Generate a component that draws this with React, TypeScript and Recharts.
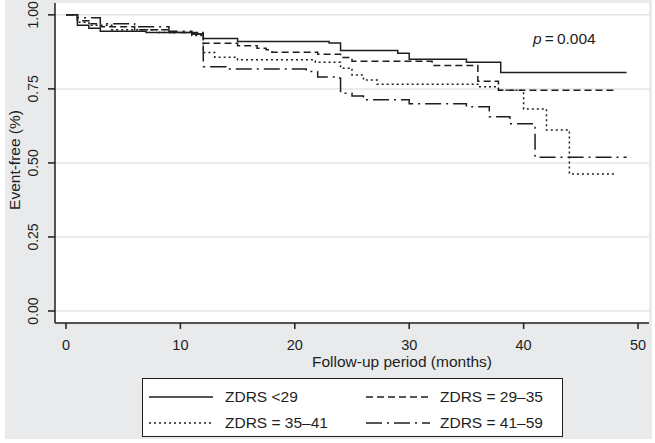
import React from "react";
import { LineChart, Line, XAxis, YAxis, CartesianGrid } from "recharts";

// Kaplan-Meier style step curves, months vs. proportion event-free
const lowMonths = [0, 1, 2, 3, 7, 11, 12, 15, 23, 24, 29, 30, 35, 38, 49];
const lowSurv = [1, 0.965, 0.955, 0.945, 0.94, 0.935, 0.92, 0.91, 0.905, 0.88, 0.87, 0.85, 0.84, 0.805, 0.805];

const midMonths = [0, 1, 2, 3, 6, 9, 12, 15, 16.7, 17.5, 18, 22, 24, 25, 32, 36, 37.8, 48];
const midSurv = [1, 0.98, 0.97, 0.96, 0.95, 0.94, 0.904, 0.896, 0.887, 0.882, 0.874, 0.867, 0.856, 0.843, 0.829, 0.776, 0.745, 0.745];

const highMonths = [0, 1, 2, 4, 8, 11, 12, 13, 15, 21.8, 24, 25, 26, 27.2, 36, 37.8, 40, 42, 44, 48];
const highSurv = [1, 0.975, 0.965, 0.95, 0.94, 0.93, 0.873, 0.857, 0.848, 0.84, 0.82, 0.797, 0.78, 0.766, 0.757, 0.745, 0.682, 0.611, 0.463, 0.463];

const topMonths = [0, 1, 3, 6, 9, 11, 12, 14, 21, 22, 23.5, 24, 25, 26, 30, 35, 37, 38.8, 41, 49];
const topSurv = [1, 0.99, 0.97, 0.96, 0.945, 0.935, 0.825, 0.817, 0.809, 0.79, 0.787, 0.735, 0.726, 0.713, 0.7, 0.69, 0.656, 0.632, 0.519, 0.519];

const groupNames = ["ZDRS <29", "ZDRS = 29\u201335", "ZDRS = 35\u201341", "ZDRS = 41\u201359"];
const xTicks = [0, 10, 20, 30, 40, 50];
const yTicks = [0, 0.25, 0.5, 0.75, 1];

const toRows = (t: number[], s: number[]) => t.map((m, i) => ({ t: m, s: s[i] }));

const series = [
  { name: groupNames[0], data: toRows(lowMonths, lowSurv), dash: undefined },
  { name: groupNames[1], data: toRows(midMonths, midSurv), dash: "7 4" },
  { name: groupNames[2], data: toRows(highMonths, highSurv), dash: "2 3" },
  { name: groupNames[3], data: toRows(topMonths, topSurv), dash: "16 5 2 5" },
];

const font = "'Liberation Sans', Arial, sans-serif";
const ink = "#1e1e1e";

const YTick = (props: any) => {
  const { y, payload } = props;
  return (
    <text x={38} y={y} transform={`rotate(-90, 38, ${y})`} textAnchor="middle" fontSize={14} fill={ink} fontFamily={font}>
      {payload.value.toFixed(2)}
    </text>
  );
};

const XTick = (props: any) => {
  const { x, payload } = props;
  return (
    <text x={x} y={350} textAnchor="middle" fontSize={14.5} fill={ink} fontFamily={font}>
      {payload.value}
    </text>
  );
};

const LegendSample = ({ dash }: { dash?: string }) => (
  <svg width={66} height={10} style={{ display: "block" }}>
    <line x1={1} y1={5} x2={65} y2={5} stroke={ink} strokeWidth={1.5} strokeDasharray={dash} />
  </svg>
);

export default function App() {
  return (
    <div style={{ position: "absolute", left: 0, top: 0, width: 655, height: 443, background: "#fff" }}>
      <div style={{ position: "absolute", left: 5, top: 0, width: 647, height: 439, background: "#e8eaec" }} />
      <div style={{ position: "absolute", left: 0, top: 0 }}>
        <LineChart width={655} height={443} margin={{ top: 3, right: 6, left: 0, bottom: 90 }}>
          <CartesianGrid
            vertical={false}
            horizontalValues={yTicks}
            stroke="#e4e4e4"
            strokeWidth={1.5}
            fill="#ffffff"
            fillOpacity={1}
          />
          <XAxis
            type="number"
            dataKey="t"
            domain={[-0.96, 50.96]}
            ticks={xTicks}
            allowDuplicatedCategory={false}
            height={30}
            tickSize={6}
            tick={<XTick />}
            axisLine={{ stroke: ink, strokeWidth: 1.5 }}
            tickLine={{ stroke: ink, strokeWidth: 1.5 }}
            label={{
              content: () => (
                <g>
                  <text x={402} y={367} textAnchor="middle" fontSize={15.5} fill={ink} fontFamily={font}>
                    Follow-up period (months)
                  </text>
                  <text x={533} y={44} fontSize={15.5} fill={ink} fontFamily={font}>
                    <tspan fontStyle="italic">p</tspan>
                    <tspan>{"\u2009=\u20090.004"}</tspan>
                  </text>
                </g>
              ),
            }}
          />
          <YAxis
            type="number"
            dataKey="s"
            domain={[-0.0405, 1.04]}
            ticks={yTicks}
            width={55}
            tickSize={7}
            tick={<YTick />}
            axisLine={{ stroke: ink, strokeWidth: 1.5 }}
            tickLine={{ stroke: ink, strokeWidth: 1.5 }}
            label={{
              content: () => (
                <text x={20} y={160} transform="rotate(-90, 20, 160)" textAnchor="middle" fontSize={15.5} fill={ink} fontFamily={font}>
                  Event-free (%)
                </text>
              ),
            }}
          />
          {series.map((s) => (
            <Line
              key={s.name}
              name={s.name}
              data={s.data}
              dataKey="s"
              type="stepAfter"
              stroke={ink}
              strokeWidth={1.5}
              strokeDasharray={s.dash}
              dot={false}
              activeDot={false}
              isAnimationActive={false}
            />
          ))}
        </LineChart>
      </div>
      <div
        style={{
          position: "absolute",
          left: 142,
          top: 378,
          width: 419,
          height: 57,
          background: "#fff",
          border: `1.5px solid ${ink}`,
          fontFamily: font,
          fontSize: 15.5,
          color: ink,
        }}
      >
        {series.map((s, i) => (
          <div
            key={s.name}
            style={{
              position: "absolute",
              left: i % 2 === 0 ? 5 : 222,
              top: i < 2 ? 8 : 34,
              display: "flex",
              alignItems: "center",
              height: 20,
            }}
          >
            <LegendSample dash={s.dash} />
            <span style={{ marginLeft: i % 2 === 0 ? 11 : 9 }}>{s.name}</span>
          </div>
        ))}
      </div>
    </div>
  );
}
